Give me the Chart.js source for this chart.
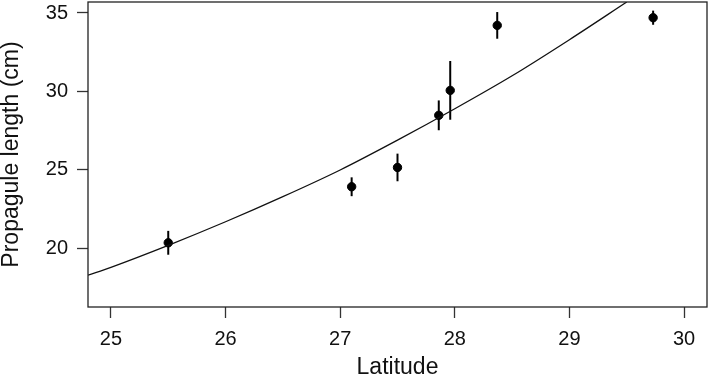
<!DOCTYPE html>
<html>
<head>
<meta charset="utf-8">
<script src="https://cdn.jsdelivr.net/npm/chart.js@4"></script>
<style>
  html, body { margin: 0; padding: 0; background: #fff; }
  #wrap { width: 709px; height: 389px; }
</style>
</head>
<body>
<div id="wrap"><canvas id="latChart" width="709" height="389"></canvas></div>
<script>
// site means (latitude, propagule length) with error bars
var siteLat = [25.50, 27.10, 27.50, 27.86, 27.96, 28.37, 29.73];
var siteLen = [20.36, 23.93, 25.16, 28.48, 30.07, 34.21, 34.70];
var siteErr = [0.76, 0.60, 0.88, 0.95, 1.87, 0.85, 0.45];

// fitted curve
var curveLat = [24.8, 25.0, 25.5, 26.0, 26.5, 27.0, 27.5, 28.0, 28.5, 29.0, 29.5];
var curveLen = [18.3, 18.8, 20.2, 21.7, 23.3, 25.0, 26.9, 28.9, 31.0, 33.3, 35.7];

// tick labels
var xTicks = [25, 26, 27, 28, 29, 30];
var yTicks = [20, 25, 30, 35];

var pts = siteLat.map(function(x, i) { return { x: x, y: siteLen[i] }; });
var curve = curveLat.map(function(x, i) { return { x: x, y: curveLen[i] }; });

// error bars + plot box
var errorBars = {
    id: 'errorBars',
    beforeDatasetsDraw: function(chart) {
        var c = chart.ctx, xs = chart.scales.x, ys = chart.scales.y, a = chart.chartArea;
        c.save();
        c.beginPath();
        c.rect(a.left, a.top, a.right - a.left, a.bottom - a.top);
        c.clip();
        c.strokeStyle = '#000';
        c.lineWidth = 2;
        siteLat.forEach(function(x, i) {
            var px = xs.getPixelForValue(x);
            c.beginPath();
            c.moveTo(px, ys.getPixelForValue(siteLen[i] - siteErr[i]));
            c.lineTo(px, ys.getPixelForValue(siteLen[i] + siteErr[i]));
            c.stroke();
        });
        c.restore();
    },
    afterDraw: function(chart) {
        var a = chart.chartArea, c = chart.ctx;
        c.save();
        c.strokeStyle = '#222';
        c.lineWidth = 1.3;
        c.strokeRect(a.left, a.top, a.right - a.left, a.bottom - a.top);
        c.restore();
    }
};

var tickFont = { family: 'Liberation Sans, Arial, sans-serif', size: 20 };
var titleFont = { family: 'Liberation Sans, Arial, sans-serif', size: 23, lineHeight: 1.0 };

new Chart(document.getElementById('latChart').getContext('2d'), {
    type: 'scatter',
    data: {
        datasets: [{
            type: 'line',
            data: curve,
            borderColor: '#111',
            borderWidth: 1.3,
            pointRadius: 0,
            cubicInterpolationMode: 'monotone',
            fill: false
        }, {
            data: pts,
            backgroundColor: '#000',
            borderColor: '#000',
            pointRadius: 4.2,
            pointHoverRadius: 4.2
        }]
    },
    options: {
        responsive: false,
        animation: false,
        layout: { autoPadding: false, padding: { top: 2, right: 2, left: 0, bottom: 0 } },
        plugins: {
            legend: { display: false },
            tooltip: { enabled: false }
        },
        scales: {
            x: {
                type: 'linear',
                min: 24.8,
                max: 30.2,
                afterBuildTicks: function(s) { s.ticks = xTicks.map(function(v) { return { value: v }; }); },
                afterFit: function(s) { s.height = 82; s.paddingLeft = 0; s.paddingRight = 0; },
                grid: { drawOnChartArea: false, drawTicks: true, tickLength: 11, tickColor: '#333', tickWidth: 1.3 },
                border: { display: false },
                ticks: { font: tickFont, color: '#111', padding: 9, maxRotation: 0 },
                title: { display: true, text: 'Latitude', font: titleFont, color: '#111', padding: { top: 0, bottom: 10 } }
            },
            y: {
                type: 'linear',
                min: 16.27,
                max: 35.7,
                afterBuildTicks: function(s) { s.ticks = yTicks.map(function(v) { return { value: v }; }); },
                afterFit: function(s) { s.width = 88; s.paddingTop = 0; s.paddingBottom = 0; },
                grid: { drawOnChartArea: false, drawTicks: true, tickLength: 11, tickColor: '#333', tickWidth: 1.3 },
                border: { display: false },
                ticks: { font: tickFont, color: '#111', padding: 9 },
                title: { display: true, text: 'Propagule length (cm)', font: titleFont, color: '#111', padding: { top: 0, bottom: 0 } }
            }
        }
    },
    plugins: [errorBars]
});
</script>
</body>
</html>
